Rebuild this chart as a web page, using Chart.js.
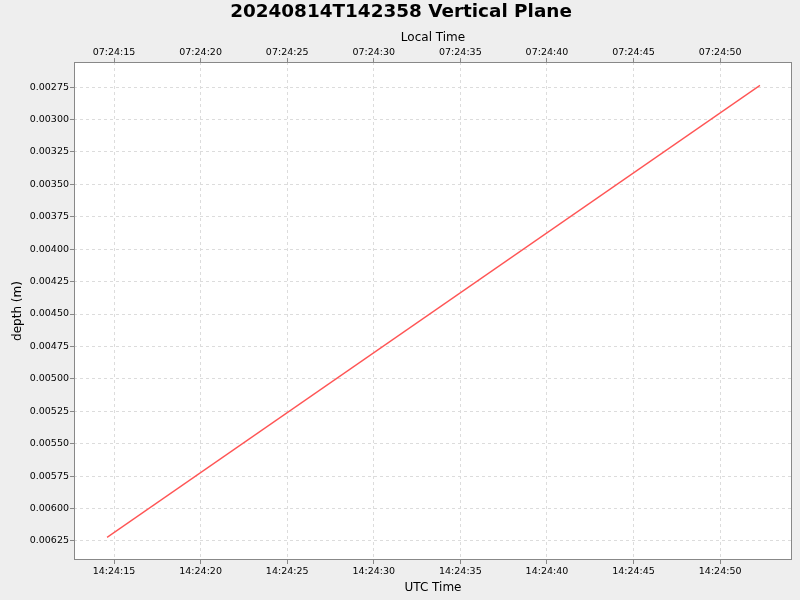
<!DOCTYPE html>
<html>
<head>
<meta charset="utf-8">
<script src="https://cdn.jsdelivr.net/npm/chart.js@4.4.1/dist/chart.umd.min.js"></script>
<style>
  html, body { margin: 0; padding: 0; background: #eeeeee; }
  #wrap { width: 800px; height: 600px; }
</style>
</head>
<body>
<div id="wrap"><canvas id="chart" width="800" height="600"></canvas></div>
<script>
// seconds after 14:24:00 UTC
const utcSeconds = [14.6, 52.3];
const depthValues = [0.006222, 0.002737];

const xTickSeconds = [15, 20, 25, 30, 35, 40, 45, 50];
const yTickValues = [0.00275, 0.00300, 0.00325, 0.00350, 0.00375, 0.00400, 0.00425,
    0.00450, 0.00475, 0.00500, 0.00525, 0.00550, 0.00575, 0.00600, 0.00625];

const xMin = 12.69, xMax = 54.15;
const yMin = 0.002557, yMax = 0.0063965;

const chartTitle = '20240814T142358 Vertical Plane';

const FONT = 'DejaVu Sans';
const TITLE_H = 24;

function pad2(n) { return (n < 10 ? '0' : '') + n; }

function setTicks(values) {
    return function (scale) {
        scale.ticks = values.map(function (v) { return { value: v }; });
    };
}

// 배경 + 플롯 테두리 + 제목 (캔버스 전체 폭 기준 가운데)
const framePlugin = {
    id: 'frame',
    beforeDraw: function (chart) {
        const c = chart.ctx, a = chart.chartArea;
        c.save();
        c.fillStyle = '#eeeeee';
        c.fillRect(0, 0, chart.width, chart.height);
        c.fillStyle = '#ffffff';
        c.fillRect(a.left, a.top, a.right - a.left, a.bottom - a.top);
        c.restore();
    },
    afterDraw: function (chart) {
        const c = chart.ctx, a = chart.chartArea;
        c.save();
        c.strokeStyle = '#888888';
        c.lineWidth = 1;
        c.strokeRect(a.left + 0.5, a.top + 0.5, a.right - a.left - 1, a.bottom - a.top - 1);
        c.fillStyle = '#000000';
        c.font = 'bold 18.4px "' + FONT + '"';
        c.textAlign = 'center';
        c.textBaseline = 'middle';
        c.fillText(chartTitle, 401, 12.5);
        c.restore();
    }
};

const gridOpts = { color: '#dcdcdc', tickColor: '#888888', tickLength: 4, drawTicks: true };
const borderOpts = { display: false, dash: [3, 3] };

new Chart(document.getElementById('chart'), {
    type: 'line',
    data: {
        datasets: [{
            data: utcSeconds.map(function (s, i) { return { x: s, y: depthValues[i] }; }),
            borderColor: '#ff5555',
            borderWidth: 1.3,
            pointRadius: 0,
            fill: false,
            tension: 0,
            xAxisID: 'x',
            yAxisID: 'y'
        }]
    },
    plugins: [framePlugin],
    options: {
        responsive: false,
        animation: false,
        layout: { padding: { top: TITLE_H, right: 8, bottom: 0, left: 0 } },
        plugins: {
            legend: { display: false },
            tooltip: { enabled: false },
            title: { display: false }
        },
        scales: {
            x: {
                type: 'linear',
                position: 'bottom',
                min: xMin, max: xMax,
                afterBuildTicks: setTicks(xTickSeconds),
                afterFit: function (s) { s.height = 40; },
                grid: gridOpts,
                border: borderOpts,
                ticks: {
                    color: '#000000', padding: 2, maxRotation: 0,
                    font: { family: FONT, size: 9.5 },
                    callback: function (v) { return '14:24:' + pad2(v); }
                },
                title: {
                    display: true, text: 'UTC Time', color: '#000000',
                    font: { family: FONT, size: 12 },
                    padding: { top: 0, bottom: 5 }
                }
            },
            x2: {
                type: 'linear',
                position: 'top',
                min: xMin, max: xMax,
                afterBuildTicks: setTicks(xTickSeconds),
                afterFit: function (s) { s.height = 62 - TITLE_H; },
                grid: { display: true, drawOnChartArea: false, tickColor: '#888888', tickLength: 4 },
                border: { display: false },
                ticks: {
                    color: '#000000', padding: 0, maxRotation: 0,
                    font: { family: FONT, size: 9.5 },
                    callback: function (v) { return '07:24:' + pad2(v); }
                },
                title: {
                    display: true, text: 'Local Time', color: '#000000',
                    font: { family: FONT, size: 12 },
                    padding: { top: 6.5, bottom: 0 }
                }
            },
            y: {
                type: 'linear',
                position: 'left',
                reverse: true,
                min: yMin, max: yMax,
                afterBuildTicks: setTicks(yTickValues),
                afterFit: function (s) { s.width = 74; },
                grid: gridOpts,
                border: borderOpts,
                ticks: {
                    color: '#000000', padding: 1,
                    font: { family: FONT, size: 9.5 },
                    callback: function (v) { return v.toFixed(5); }
                },
                title: {
                    display: true, text: 'depth (m)', color: '#000000',
                    font: { family: FONT, size: 12 },
                    padding: { top: 11, bottom: 0 }
                }
            }
        }
    }
});
</script>
</body>
</html>
